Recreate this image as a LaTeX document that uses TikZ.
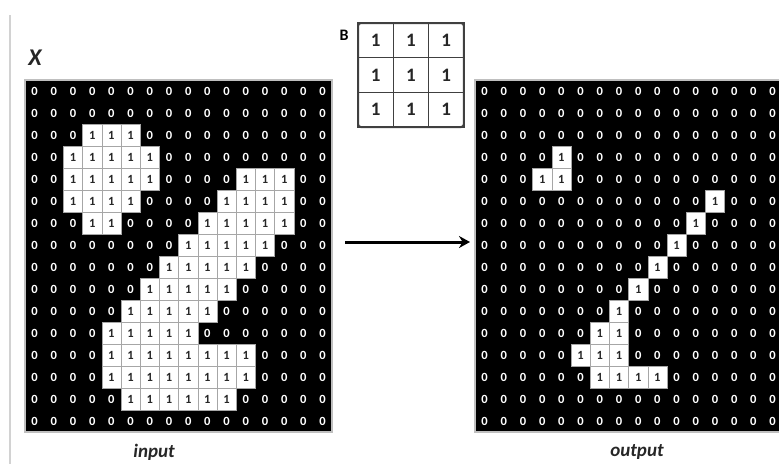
\documentclass[tikz,border=0pt]{standalone}
\usepackage{fontspec}
\setmainfont{Carlito}
\usetikzlibrary{arrows.meta}

\tikzset{
  zerocell/.style={text=white, font=\bfseries\fontsize{12.5}{12.5}\selectfont, inner sep=0pt},
  onecell/.style={draw=gray!70, line width=0.6pt, fill=white, minimum width=19.2pt, minimum height=22pt, inner sep=0pt, outer sep=0pt, font=\bfseries\fontsize{12.5}{12.5}\selectfont, text=black!85},
  gridframe/.style={draw=gray!50, line width=1.5pt, fill=black, minimum width=307.2pt, minimum height=352pt, anchor=north west, inner sep=0pt, outer sep=0pt},
  kernelcell/.style={draw=black!75, line width=1.5pt, fill=white, minimum width=35.3pt, minimum height=34.7pt, inner sep=0pt, outer sep=0pt, font=\bfseries\fontsize{19}{19}\selectfont, text=black!85},
  caption/.style={font=\bfseries\itshape\fontsize{19}{19}\selectfont, text=black!85}
}

\begin{document}
\begin{tikzpicture}[x=1pt, y=-1pt]
    \useasboundingbox (0,0) rectangle (779,464);
    \draw[gray!35, line width=2pt] (10,15) -- (10,464);

    \node (inframe) [gridframe] at (25,80) {};
    \node (outframe) [gridframe] at (475,80) {};

    \foreach \r in {0,...,15}
        \foreach \c in {0,...,15} {
            \node (in-\r-\c) [zerocell] at (34.6+19.2*\c, 91+22*\r) {0};
            \node (out-\r-\c) [zerocell] at (484.6+19.2*\c, 91+22*\r) {0};
        }

    \foreach \r/\a/\b in {2/3/5, 3/2/6, 4/2/6, 4/11/13, 5/2/5, 5/10/13, 6/3/4, 6/9/13, 7/8/12, 8/7/11, 9/6/10, 10/5/9, 11/4/8, 12/4/11, 13/4/11, 14/5/10}
        \foreach \c in {\a,...,\b}
            \node (inone-\r-\c) [onecell] at (34.6+19.2*\c, 91+22*\r) {1};

    \foreach \r/\c in {3/4, 4/3, 4/4, 5/12, 6/11, 7/10, 8/9, 9/8, 10/7, 11/6, 11/7, 12/5, 12/6, 12/7, 13/6, 13/7, 13/8, 13/9}
        \node (outone-\r-\c) [onecell] at (484.6+19.2*\c, 91+22*\r) {1};

    \node (bmark) [font=\bfseries\fontsize{16}{16}\selectfont] at (344,35) {B};
    \foreach \r in {0,1,2}
        \foreach \c in {0,1,2}
            \node (k-\r-\c) [kernelcell] at (375.65+35.3*\c, 40.35+34.7*\r) {1};
    \draw[black!75, line width=2pt, rounded corners=3pt] (k-0-0.north west) rectangle (k-2-2.south east);

    \coordinate (arrowtail) at (345,242);
    \coordinate (arrowtip) at (470,242);
    \draw[-{Stealth[length=11pt, width=12pt]}, line width=3pt] (arrowtail) -- (arrowtip);

    \node (xlabel) [caption, font=\bfseries\itshape\fontsize{24}{24}\selectfont] at (35,58) {X};
    \node (inlabel) [caption] at (154,452) {input};
    \node (outlabel) [caption] at (637,452) {output};
\end{tikzpicture}
\end{document}
